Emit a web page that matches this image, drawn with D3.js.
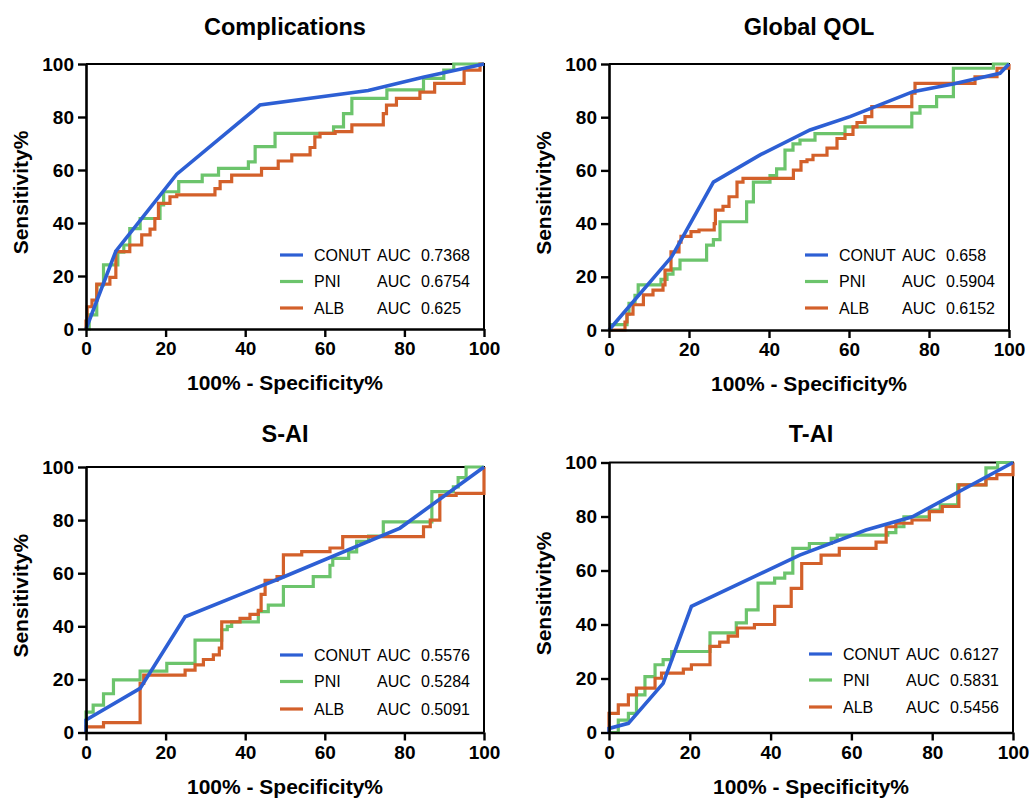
<!DOCTYPE html>
<html>
<head>
<meta charset="utf-8">
<script src="https://cdn.jsdelivr.net/npm/d3@7"></script>
<style>
  body { margin: 0; background: #fff; }
  svg { display: block; font-family: "Liberation Sans", Arial, Helvetica, sans-serif; }
</style>
</head>
<body>
<svg width="1033" height="799"></svg>
<script>
// chart data ------------------------------------------------------------
var titles = ["Complications", "Global QOL", "S-AI", "T-AI"];
var seriesNames = ["CONUT", "PNI", "ALB"];
var colors = ["#2d5fd4", "#6cc46c", "#d3602a"];
var tickValues = [0, 20, 40, 60, 80, 100];

var aucComp = ["0.7368", "0.6754", "0.625"];
var aucQol  = ["0.658", "0.5904", "0.6152"];
var aucSai  = ["0.5576", "0.5284", "0.5091"];
var aucTai  = ["0.6127", "0.5831", "0.5456"];

// CONUT: straight segments; PNI / ALB: step plateaus [x start, sensitivity]
var compConut = [[0,0],[7.5,29.4],[22.8,58.4],[43.7,84.5],[70.9,90],[84.7,95],[100,100]];
var compPni = [[0,0],[0.8,5.3],[2.7,16.6],[4.4,24.2],[8,29],[9.5,31.7],[11,37.9],[13.6,41.7],[18.6,46.8],[19.5,51.8],[23.3,55.6],[29.2,58.1],[33.3,60.6],[40.8,63.1],[42.5,68.8],[47.5,73.8],[62.2,76.3],[64.7,81.3],[66.8,87],[75.6,90.2],[84.8,94.6],[89.9,97.7],[92.4,100],[100,100]];
var compAlb = [[0,0],[0,3],[0.3,8.4],[1.5,10.9],[2.7,16.9],[6,19.5],[7.5,29.2],[11,31.7],[14,35.5],[16.1,37.7],[17.3,41.7],[18.2,47.4],[21.1,49.9],[22.8,50.6],[32.4,53],[33.7,55.6],[36.6,58.1],[44.1,60.6],[48.3,63.4],[51.7,65.7],[56.3,68.5],[57.5,72.5],[58.8,73.8],[62.6,74.5],[66.8,77],[74.7,81.3],[75.5,84.5],[78,87],[83.9,89.4],[87.6,92.7],[95,97.7],[99,100],[100,100]];

var qolConut = [[0,0],[15.7,27.6],[26.1,55.6],[38,66],[50.25,75.2],[60.25,80.2],[76,89.6],[86,92.5],[97.75,96.5],[100,100]];
var qolPni = [[0,0],[0.5,2],[4.5,6],[5,10],[6.5,13],[7.3,17],[13,19],[14.5,21],[16,23],[17.75,26.3],[24.4,31.9],[26.1,34],[27.75,40.7],[34.4,48.2],[36.1,55.6],[40.25,58],[41.9,60.6],[44,67.6],[46,70],[47.75,71.4],[51.5,73.8],[59,76.4],[75.7,81.5],[77.75,84],[81.9,87.7],[86.1,98.4],[96.1,100],[100,100]];
var qolAlb = [[0,0],[4,3],[4.5,6],[6,9.5],[8.6,13.2],[11,15],[13.5,17],[14,22.5],[15.5,29.4],[17.5,33],[18,35.2],[20.5,37],[22.5,37.6],[26.3,40],[26.6,45.1],[28.5,46.5],[30,50.1],[32,55.6],[33.5,57],[46.1,60.1],[48,63.3],[49.5,64],[51,65.7],[54.5,68.4],[57,72],[59,73.5],[61,76.4],[62,78],[64,80.2],[65.7,84],[75.7,89],[76.5,92.7],[91.5,95.2],[97,98.4],[100,100]];

var saiConut = [[0,0],[0,4.7],[13.6,16.6],[24.9,43.6],[48.7,58],[78.9,77],[100,100]];
var saiPni = [[0,0],[0,7.7],[1.8,10.3],[4.4,14.6],[6.9,19.8],[13.6,23.1],[20.3,26],[27.4,34.8],[34.1,38.7],[35.5,40],[36.6,41.7],[43.3,45.5],[45.8,48],[49.6,55],[57.1,58.7],[61.3,63],[62,65.6],[66,68],[68,72],[71,74],[74.7,79.3],[86.9,90.7],[92.3,92.5],[93.5,96],[95.5,100],[100,100]];
var saiAlb = [[0,0],[0,2.1],[4.4,3.7],[13.6,18.5],[14.5,21.6],[24.9,23.5],[27.4,25.5],[29.5,27.5],[32,29.2],[33.5,31.8],[34.1,41.7],[38.7,43],[41.2,44.5],[43.3,46],[44,52],[45,57.3],[48,58.7],[49.6,66.9],[54.2,68.1],[61.3,69.5],[64.5,73.8],[84.8,77.5],[86.5,80],[88.9,89.3],[93,90.1],[100,100]];

var taiConut = [[0,0],[0,1.5],[4.8,3.4],[13.4,18.2],[20.4,46.7],[47.2,65.7],[63.6,75],[75.1,79.9],[100,100]];
var taiPni = [[0,0],[2.3,4.6],[4.8,7.1],[6.8,13.9],[8.9,20.7],[11.4,25.1],[13.4,27],[15.5,30],[25,36.9],[31.5,40.6],[34,45.4],[36.9,55.3],[41,57.2],[43.5,59],[45.5,68.2],[49.6,70],[55,71.9],[56.5,73.1],[69,74],[71,76.2],[73,79.9],[79.3,82.4],[82,84.3],[86.3,91.7],[93.3,98],[96.2,100],[100,100]];
var taiAlb = [[0,0],[0,7.1],[2.3,10.2],[4.8,13.9],[6.8,16.4],[11.4,20.1],[13,22],[18.4,23.5],[20.4,25.1],[25,31.9],[27.4,33.5],[29.5,35.7],[31.8,38.7],[36,40],[41,46.7],[45.1,53.4],[47.7,62.6],[52.5,65.7],[57,68.2],[66.1,70.5],[68.6,76.2],[71,77.5],[75,78.7],[79.3,81.8],[82.5,83.7],[86.6,91.7],[93.3,94],[96,95.5],[100,100]];

// layout -----------------------------------------------------------------
var panels = [
  {title: titles[0], series: [compConut, compPni, compAlb], auc: aucComp, left: 86,  top: 64,    right: 484,  bottom: 329,   titleY: 35,    legend: [74, 47.5, 21]},
  {title: titles[1], series: [qolConut, qolPni, qolAlb],    auc: aucQol,  left: 609, top: 64,    right: 1009, bottom: 330,   titleY: 35,    legend: [75, 48.5, 22]},
  {title: titles[2], series: [saiConut, saiPni, saiAlb],    auc: aucSai,  left: 86,  top: 467,   right: 484,  bottom: 732.5, titleY: 441.5, legend: [77.5, 51, 23.5]},
  {title: titles[3], series: [taiConut, taiPni, taiAlb],    auc: aucTai,  left: 609, top: 462.5, right: 1013, bottom: 732.5, titleY: 441.5, legend: [78.5, 52.5, 25.5]}
];

var svg = d3.select("svg");
svg.append("rect").attr("width", 1033).attr("height", 799).attr("fill", "#fff");

panels.forEach(function(p) {
  var w = p.right - p.left, h = p.bottom - p.top;
  var x = d3.scaleLinear().domain([0, 100]).range([0, w]);
  var y = d3.scaleLinear().domain([0, 100]).range([h, 0]);
  var g = svg.append("g").attr("transform", "translate(" + p.left + "," + p.top + ")");

  // frame (top + right)
  g.append("path")
      .attr("d", "M0,0H" + w + "V" + h)
      .attr("fill", "none")
      .attr("stroke", "#000")
      .attr("stroke-width", 2);

  // curves: PNI, ALB, then CONUT on top
  [1, 2, 0].forEach(function(i) {
    var line = d3.line()
        .x(function(d) { return x(d[0]); })
        .y(function(d) { return y(d[1]); })
        .curve(i === 0 ? d3.curveLinear : d3.curveStepAfter);
    g.append("path")
        .datum(p.series[i])
        .attr("d", line)
        .attr("fill", "none")
        .attr("stroke", colors[i])
        .attr("stroke-width", i === 0 ? 3.6 : 3.2)
        .attr("stroke-linejoin", "miter");
  });

  // axes
  var xAxis = g.append("g")
      .attr("transform", "translate(0," + h + ")")
      .call(d3.axisBottom(x).tickValues(tickValues).tickSize(8).tickPadding(5).tickSizeOuter(0));
  var yAxis = g.append("g")
      .call(d3.axisLeft(y).tickValues(tickValues).tickSize(8).tickPadding(4).tickSizeOuter(0));
  [xAxis, yAxis].forEach(function(a) {
    a.select(".domain").attr("stroke-width", 2.6);
    a.selectAll(".tick line").attr("stroke-width", 2.4);
    a.selectAll(".tick text")
        .attr("fill", "#000")
        .style("font-size", "19px")
        .style("font-weight", "bold")
        .style("font-family", "'Liberation Sans', Arial, sans-serif");
  });

  // title
  svg.append("text")
      .attr("x", p.left + w / 2)
      .attr("y", p.titleY)
      .attr("text-anchor", "middle")
      .style("font-size", "23.5px")
      .style("font-weight", "bold")
      .text(p.title);

  // axis labels
  svg.append("text")
      .attr("x", p.left + w / 2)
      .attr("y", p.bottom + 61)
      .attr("text-anchor", "middle")
      .style("font-size", "21px")
      .style("font-weight", "bold")
      .text("100% - Specificity%");
  svg.append("text")
      .attr("transform", "translate(" + (p.left - 58) + "," + (p.top + h / 2 - 4) + ") rotate(-90)")
      .attr("text-anchor", "middle")
      .style("font-size", "21px")
      .style("font-weight", "bold")
      .text("Sensitivity%");

  // legend
  seriesNames.forEach(function(name, i) {
    var ly = h - p.legend[i];
    var row = g.append("g").attr("transform", "translate(0," + ly + ")");
    row.append("line")
        .attr("x1", w - 204).attr("x2", w - 181)
        .attr("stroke", colors[i]).attr("stroke-width", 3.2);
    row.append("text").attr("x", w - 170).attr("dy", "0.36em")
        .style("font-size", "16px").text(name);
    row.append("text").attr("x", w - 107).attr("dy", "0.36em")
        .style("font-size", "16px").text("AUC");
    row.append("text").attr("x", w - 63).attr("dy", "0.36em")
        .style("font-size", "16px").text(p.auc[i]);
  });
});
</script>
</body>
</html>
